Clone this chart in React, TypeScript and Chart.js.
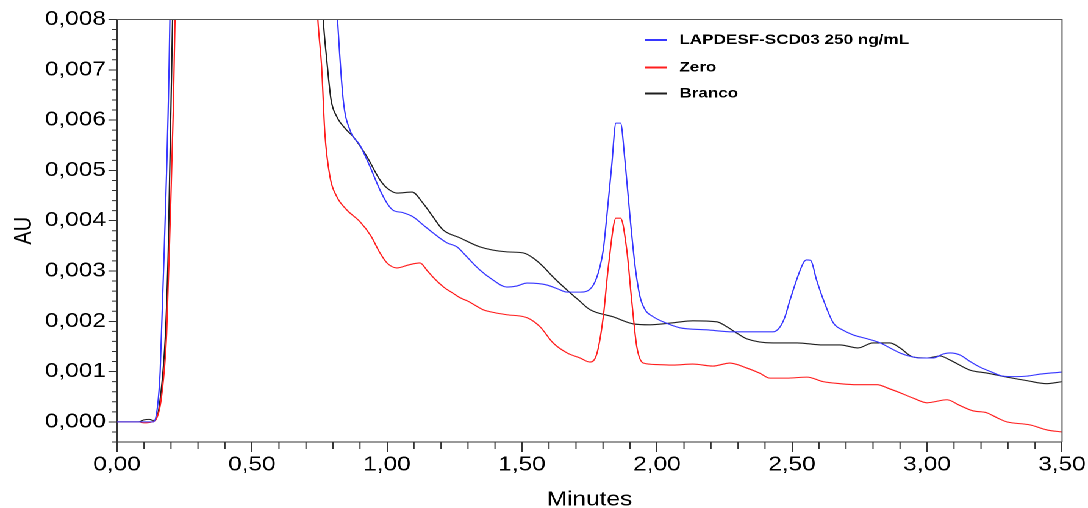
import React, { useEffect, useRef } from 'react';
import { Chart, registerables } from 'chart.js';
Chart.register(...registerables);

// ---- data (time in minutes, absorbance in AU) ----
const blueT = [0, 0.135, 0.15, 0.16, 0.175, 0.196, 0.22, 0.45, 0.7, 0.8, 0.817, 0.838, 0.863, 0.9, 0.935, 0.974, 1.0, 1.022, 1.059, 1.096, 1.133, 1.17, 1.222, 1.259, 1.296, 1.344, 1.393, 1.444, 1.48, 1.519, 1.56, 1.593, 1.63, 1.667, 1.715, 1.764, 1.789, 1.801, 1.814, 1.832, 1.848, 1.865, 1.881, 1.9, 1.919, 1.937, 1.956, 1.986, 2.036, 2.085, 2.185, 2.281, 2.43, 2.456, 2.474, 2.493, 2.542, 2.554, 2.569, 2.591, 2.616, 2.654, 2.69, 2.726, 2.78, 2.826, 2.863, 2.9, 2.94, 2.974, 3.022, 3.06, 3.085, 3.122, 3.16, 3.196, 3.24, 3.281, 3.33, 3.37, 3.42, 3.456, 3.5];
const blueV = [0, 0, 0.0003, 0.001, 0.0034, 0.008, 0.02, 0.06, 0.025, 0.0098, 0.008, 0.0064, 0.0058, 0.0055, 0.0051, 0.00461, 0.00435, 0.00421, 0.00416, 0.00408, 0.00392, 0.00376, 0.00356, 0.00348, 0.00328, 0.00302, 0.00282, 0.00268, 0.0027, 0.00276, 0.00275, 0.00272, 0.00265, 0.00258, 0.00258, 0.00272, 0.00309, 0.00342, 0.00408, 0.00508, 0.00594, 0.00594, 0.00521, 0.00408, 0.00309, 0.00249, 0.00223, 0.00209, 0.00196, 0.00187, 0.00183, 0.00179, 0.00179, 0.00189, 0.00209, 0.00243, 0.00316, 0.00322, 0.00321, 0.00282, 0.00243, 0.00196, 0.00182, 0.00173, 0.00165, 0.00157, 0.00147, 0.00137, 0.0013, 0.00127, 0.00127, 0.00135, 0.00137, 0.00133, 0.0012, 0.00109, 0.00099, 0.00091, 0.0009, 0.00091, 0.00095, 0.00097, 0.00099];

const redT = [0, 0.08, 0.1, 0.13, 0.147, 0.165, 0.184, 0.194, 0.215, 0.24, 0.45, 0.65, 0.73, 0.744, 0.758, 0.77, 0.789, 0.814, 0.852, 0.9, 0.94, 0.974, 1.0, 1.037, 1.08, 1.122, 1.15, 1.17, 1.21, 1.244, 1.27, 1.3, 1.356, 1.4, 1.444, 1.519, 1.567, 1.615, 1.667, 1.715, 1.752, 1.778, 1.801, 1.82, 1.848, 1.865, 1.888, 1.906, 1.925, 1.949, 2.0, 2.059, 2.133, 2.207, 2.27, 2.333, 2.38, 2.419, 2.48, 2.556, 2.615, 2.678, 2.741, 2.815, 2.86, 2.9, 2.95, 3.0, 3.074, 3.12, 3.17, 3.222, 3.26, 3.296, 3.381, 3.444, 3.5];
const redV = [0, 0, -0.00002, 0, 0.00007, 0.0005, 0.00176, 0.00342, 0.008, 0.02, 0.06, 0.025, 0.0096, 0.008, 0.00706, 0.00574, 0.00487, 0.00448, 0.00421, 0.00398, 0.0037, 0.00336, 0.00316, 0.00306, 0.00312, 0.00316, 0.003, 0.00288, 0.00268, 0.00256, 0.00247, 0.0024, 0.00223, 0.00217, 0.00213, 0.00207, 0.00189, 0.00157, 0.00137, 0.00127, 0.00119, 0.00137, 0.00209, 0.00309, 0.00405, 0.00405, 0.00342, 0.00243, 0.0015, 0.00117, 0.00114, 0.00113, 0.00115, 0.00111, 0.00117, 0.00107, 0.00097, 0.00087, 0.00087, 0.00089, 0.0008, 0.00076, 0.00074, 0.00074, 0.00066, 0.00058, 0.00047, 0.00038, 0.00044, 0.00033, 0.00022, 0.00018, 0.00008, 0, -0.00006, -0.00016, -0.0002];

const blackT = [0, 0.08, 0.1, 0.12, 0.133, 0.14, 0.16, 0.18, 0.19, 0.206, 0.23, 0.45, 0.68, 0.75, 0.764, 0.777, 0.793, 0.814, 0.851, 0.875, 0.926, 0.974, 1.0, 1.037, 1.093, 1.133, 1.17, 1.207, 1.27, 1.344, 1.444, 1.504, 1.541, 1.58, 1.615, 1.667, 1.71, 1.752, 1.837, 1.911, 1.974, 2.059, 2.133, 2.222, 2.259, 2.3, 2.333, 2.43, 2.519, 2.615, 2.678, 2.744, 2.8, 2.863, 2.9, 2.948, 3.0, 3.048, 3.085, 3.159, 3.222, 3.296, 3.37, 3.444, 3.5];
const blackV = [0, 0, 0.00004, 0.00005, 0.00003, 0.00003, 0.00045, 0.0018, 0.00342, 0.008, 0.02, 0.06, 0.025, 0.0096, 0.008, 0.0072, 0.0064, 0.00607, 0.0058, 0.00567, 0.00527, 0.00481, 0.00465, 0.00455, 0.00457, 0.00435, 0.00408, 0.00382, 0.00366, 0.00348, 0.00338, 0.00336, 0.00326, 0.00308, 0.00288, 0.00262, 0.00242, 0.00223, 0.00209, 0.00195, 0.00193, 0.00197, 0.00201, 0.00199, 0.00189, 0.00175, 0.00165, 0.00157, 0.00157, 0.00153, 0.00153, 0.00147, 0.00157, 0.00157, 0.00147, 0.00129, 0.00127, 0.00131, 0.00123, 0.00103, 0.00097, 0.00089, 0.00082, 0.00076, 0.0008];

const seriesLabels = ['LAPDESF-SCD03 250 ng/mL', 'Zero', 'Branco'];
const seriesColors = ['rgb(55,55,255)', 'rgb(255,30,30)', 'rgb(30,30,30)'];
const xTicks = [0, 0.5, 1, 1.5, 2, 2.5, 3, 3.5];
const yTicks = [0, 0.001, 0.002, 0.003, 0.004, 0.005, 0.006, 0.007, 0.008];

const W = 892;
const H = 508;
const S = 1088 / W;
const FONT = '"Liberation Sans", Arial, sans-serif';

function pts(t: number[], v: number[]) {
  return t.map((x, i) => ({ x, y: v[i] }));
}

const framePlugin = {
  id: 'frameAndLegend',
  afterDraw(chart: any) {
    const { ctx, chartArea } = chart;
    const { left, right, top, bottom } = chartArea;
    const xs = chart.scales.x;
    const ys = chart.scales.y;
    ctx.save();
    // top & right border
    ctx.strokeStyle = '#555';
    ctx.lineWidth = 1;
    ctx.beginPath();
    ctx.moveTo(left, top);
    ctx.lineTo(right, top);
    ctx.lineTo(right, bottom);
    ctx.stroke();
    // minor ticks
    ctx.strokeStyle = '#333';
    ctx.beginPath();
    for (let k = -2; k <= 40; k++) {
      if (k % 5 === 0) continue;
      const y = ys.getPixelForValue(k * 0.0002);
      ctx.moveTo(left - 4, y);
      ctx.lineTo(left, y);
    }
    for (let k = 1; k < 35; k++) {
      if (k % 5 === 0) continue;
      const x = xs.getPixelForValue(k * 0.1);
      ctx.moveTo(x, bottom);
      ctx.lineTo(x, bottom + 7);
    }
    ctx.stroke();
    // legend
    const ly = [40, 67.5, 93.5];
    ctx.font = 'bold 14px ' + FONT;
    ctx.textBaseline = 'middle';
    ctx.textAlign = 'left';
    seriesLabels.forEach((lab, i) => {
      ctx.strokeStyle = seriesColors[i];
      ctx.lineWidth = 2;
      ctx.beginPath();
      ctx.moveTo(529, ly[i]);
      ctx.lineTo(547, ly[i]);
      ctx.stroke();
      ctx.fillStyle = '#000';
      ctx.fillText(lab, 557, ly[i]);
    });
    ctx.restore();
  },
};

export default function App() {
  const ref = useRef<HTMLCanvasElement | null>(null);
  useEffect(() => {
    if (!ref.current) return;
    const tickFont = { family: FONT, size: 20 };
    const chart = new Chart(ref.current, {
      type: 'line',
      data: {
        datasets: [
          { label: seriesLabels[0], data: pts(blueT, blueV), borderColor: seriesColors[0] },
          { label: seriesLabels[1], data: pts(redT, redV), borderColor: seriesColors[1] },
          { label: seriesLabels[2], data: pts(blackT, blackV), borderColor: seriesColors[2] },
        ],
      },
      options: {
        animation: false,
        responsive: true,
        maintainAspectRatio: false,
        devicePixelRatio: 2,
        layout: { padding: { left: 0, right: 21.3, top: 19.5, bottom: 0 } },
        plugins: { legend: { display: false }, tooltip: { enabled: false } },
        elements: {
          point: { radius: 0 },
          line: { borderWidth: 1.1, cubicInterpolationMode: 'monotone', fill: false },
        },
        scales: {
          x: {
            type: 'linear',
            min: 0,
            max: 3.5,
            afterBuildTicks: (s: any) => {
              s.ticks = xTicks.map((v) => ({ value: v }));
            },
            afterFit: (s: any) => {
              s.height = 66;
            },
            grid: { drawOnChartArea: false, drawTicks: true, tickLength: 10, color: '#333' },
            border: { display: true, color: '#333', width: 1 },
            ticks: {
              padding: 1,
              color: '#000',
              font: tickFont,
              maxRotation: 0,
              autoSkip: false,
              callback: (v: any) => Number(v).toFixed(2).replace('.', ','),
            },
            title: {
              display: true,
              text: 'Minutes',
              color: '#000',
              font: tickFont,
              padding: { top: 0, bottom: -4 },
            },
          },
          y: {
            type: 'linear',
            min: -0.0004,
            max: 0.008,
            afterBuildTicks: (s: any) => {
              s.ticks = yTicks.map((v) => ({ value: v }));
            },
            afterFit: (s: any) => {
              s.width = 95.9;
            },
            grid: { drawOnChartArea: false, drawTicks: true, tickLength: 7, color: '#333' },
            border: { display: true, color: '#333', width: 1 },
            ticks: {
              padding: 2,
              color: '#000',
              font: tickFont,
              autoSkip: false,
              callback: (v: any) => Number(v).toFixed(3).replace('.', ','),
            },
            title: {
              display: true,
              text: 'AU',
              color: '#000',
              font: tickFont,
              padding: { top: 8, bottom: 0 },
            },
          },
        },
      } as any,
      plugins: [framePlugin],
    });
    return () => chart.destroy();
  }, []);
  return (
    <div
      style={{
        position: 'absolute',
        left: 0,
        top: 0,
        width: W,
        height: H,
        transform: `scaleX(${S})`,
        transformOrigin: '0 0',
        background: '#fff',
      }}
    >
      <canvas ref={ref} />
    </div>
  );
}
